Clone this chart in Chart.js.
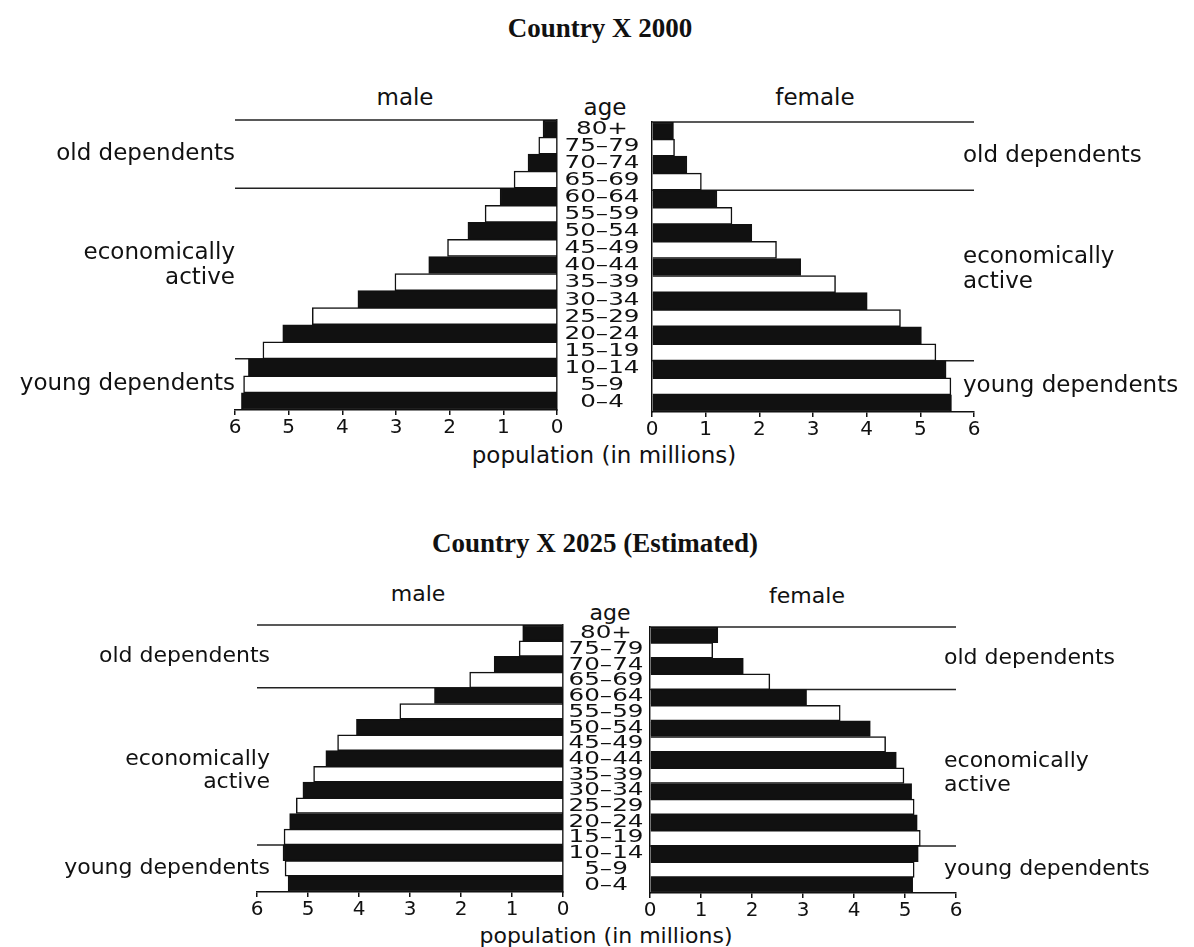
<!DOCTYPE html>
<html>
<head>
<meta charset="utf-8">
<script src="https://cdn.jsdelivr.net/npm/chart.js@4.4.1/dist/chart.umd.min.js"></script>
<style>
  body { margin: 0; background: #fff; width: 1194px; height: 947px; position: relative; overflow: hidden;
         font-family: "DejaVu Sans", sans-serif; color: #111; }
  .box { position: absolute; }
  .txt { position: absolute; transform: translate(-50%, -50%); white-space: nowrap; font-size: 23px; }
  .small { font-size: 22px; }
  .title { font-family: "Liberation Serif", serif; font-weight: bold; font-size: 27px; }
</style>
</head>
<body>
<div class="txt title" style="left:600px;top:28px">Country X 2000</div>
<div class="txt" style="left:405px;top:97px">male</div>
<div class="txt" style="left:815px;top:97px">female</div>
<div class="txt" style="left:605px;top:107px">age</div>
<div class="txt" style="left:604px;top:455px">population (in millions)</div>

<div class="txt title" style="left:595px;top:543px">Country X 2025 (Estimated)</div>
<div class="txt small" style="left:418px;top:593px">male</div>
<div class="txt small" style="left:807px;top:595px">female</div>
<div class="txt small" style="left:610px;top:612px">age</div>
<div class="txt small" style="left:606px;top:935px">population (in millions)</div>

<div class="box" style="left:0;top:110px;width:647px;height:330px"><canvas id="male2000"></canvas></div>
<div class="box" style="left:640px;top:112px;width:554px;height:330px"><canvas id="female2000"></canvas></div>
<div class="box" style="left:0;top:615px;width:653px;height:307px"><canvas id="male2025"></canvas></div>
<div class="box" style="left:640px;top:617px;width:554px;height:306px"><canvas id="female2025"></canvas></div>

<script>
// age groups, top of the pyramid first
const ageGroups = ['80+', '75–79', '70–74', '65–69', '60–64', '55–59', '50–54', '45–49', '40–44',
                   '35–39', '30–34', '25–29', '20–24', '15–19', '10–14', '5–9', '0–4'];

// population in millions
const male2000   = [0.26, 0.34, 0.54, 0.80, 1.06, 1.34, 1.66, 2.04, 2.39, 3.02, 3.71, 4.56, 5.11, 5.48, 5.75, 5.84, 5.88];
const female2000 = [0.40, 0.42, 0.65, 0.92, 1.21, 1.49, 1.86, 2.32, 2.77, 3.42, 4.01, 4.63, 5.02, 5.29, 5.48, 5.57, 5.58];
const male2025   = [0.79, 0.86, 1.35, 1.83, 2.52, 3.20, 4.05, 4.42, 4.65, 4.89, 5.10, 5.23, 5.36, 5.47, 5.49, 5.45, 5.39];
const female2025 = [1.33, 1.23, 1.83, 2.35, 3.07, 3.73, 4.32, 4.62, 4.83, 4.98, 5.13, 5.18, 5.24, 5.30, 5.26, 5.18, 5.15];

// dependency groups: label lines and the first (top) age group of each
const groupNames = [['old dependents'], ['economically', 'active'], ['young dependents']];
const groupFirstAge = ['80+', '60–64', '10–14'];

const xTicks = [0, 1, 2, 3, 4, 5, 6];

const INK = '#111';

// group lines, group labels and the age column
const pyramidDecor = {
  id: 'pyramidDecor',
  beforeDatasetsDraw(chart, args, opts) {
    const {ctx, scales: {x, y}} = chart;
    const step = y.getPixelForValue(1) - y.getPixelForValue(0);
    ctx.save();
    ctx.strokeStyle = '#222';
    ctx.lineWidth = 1.5;
    groupFirstAge.forEach(age => {
      const py = y.getPixelForValue(ageGroups.indexOf(age)) - step / 2;
      ctx.beginPath();
      ctx.moveTo(x.getPixelForValue(x.max), py);
      ctx.lineTo(x.getPixelForValue(0), py);
      ctx.stroke();
    });
    ctx.restore();
  },
  afterDraw(chart, args, opts) {
    const {ctx, chartArea, scales: {y}} = chart;
    ctx.save();
    ctx.fillStyle = INK;
    ctx.textBaseline = 'middle';
    ctx.font = opts.groupFont + 'px "DejaVu Sans"';
    const male = opts.side === 'male';
    ctx.textAlign = male ? 'right' : 'left';
    const px = (male ? chartArea.left : chartArea.right) + opts.labelShift;
    groupFirstAge.forEach((age, g) => {
      const first = ageGroups.indexOf(age);
      const last = g < groupFirstAge.length - 1 ? ageGroups.indexOf(groupFirstAge[g + 1]) - 1 : ageGroups.length - 1;
      let mid = (y.getPixelForValue(first) + y.getPixelForValue(last)) / 2;
      if (g === 1) mid += opts.midShift;
      const lines = groupNames[g];
      lines.forEach((t, k) => ctx.fillText(t, px, mid + (k - (lines.length - 1) / 2) * opts.lineGap));
    });

    // age labels sit between the two halves, drawn by the male chart
    if (opts.ageOffset) {
      ctx.font = '17px "DejaVu Sans"';
      ctx.textAlign = 'center';
      ageGroups.forEach((lab, i) => {
        ctx.save();
        ctx.translate(chartArea.right + opts.ageOffset, y.getPixelForValue(i) + 1);
        ctx.scale(1.45, 1);
        ctx.fillText(lab, 0, 0);
        ctx.restore();
      });
    }
    ctx.restore();
  }
};

function makeChart(canvasId, values, side, padding, decor) {
  const isMale = side === 'male';
  return new Chart(document.getElementById(canvasId), {
    type: 'bar',
    data: {
      labels: ageGroups,
      datasets: [{
        data: values,
        backgroundColor: ageGroups.map((a, i) => i % 2 === 0 ? INK : '#fff'),
        borderColor: INK,
        borderWidth: 1.5,
        categoryPercentage: 1,
        barPercentage: 1
      }]
    },
    options: {
      indexAxis: 'y',
      responsive: true,
      maintainAspectRatio: false,
      animation: false,
      layout: { padding: padding },
      plugins: {
        legend: { display: false },
        tooltip: { enabled: false },
        pyramidDecor: Object.assign({ side: side }, decor)
      },
      scales: {
        x: {
          reverse: isMale,
          min: xTicks[0],
          max: xTicks[xTicks.length - 1],
          ticks: { stepSize: 1, autoSkip: false, maxRotation: 0, padding: 1, color: INK,
                   font: { family: 'DejaVu Sans', size: 20 } },
          grid: { drawOnChartArea: false, drawTicks: true, tickLength: 5, color: INK, lineWidth: 1.5 },
          border: { display: true, color: INK, width: 1.5 },
          afterFit: s => { s.height = 30; }
        },
        y: {
          position: isMale ? 'right' : 'left',
          ticks: { display: false },
          grid: { display: false, drawTicks: false },
          border: { display: true, color: INK, width: 1.5 },
          afterFit: s => { s.width = 0; }
        }
      }
    },
    plugins: [pyramidDecor]
  });
}

makeChart('male2000', male2000, 'male', { left: 235, right: 90, top: 10, bottom: 0 },
          { groupFont: 23, labelShift: 0, lineGap: 25, midShift: -8, ageOffset: 45 });
makeChart('female2000', female2000, 'female', { left: 12, right: 220, top: 10, bottom: 0 },
          { groupFont: 23, labelShift: -11, lineGap: 25, midShift: -6 });
makeChart('male2025', male2025, 'male', { left: 257, right: 90, top: 10, bottom: 0 },
          { groupFont: 22, labelShift: 13, lineGap: 23, midShift: 4, ageOffset: 43 });
makeChart('female2025', female2025, 'female', { left: 10, right: 238, top: 10, bottom: 0 },
          { groupFont: 22, labelShift: -12, lineGap: 24, midShift: 5 });
</script>
</body>
</html>
